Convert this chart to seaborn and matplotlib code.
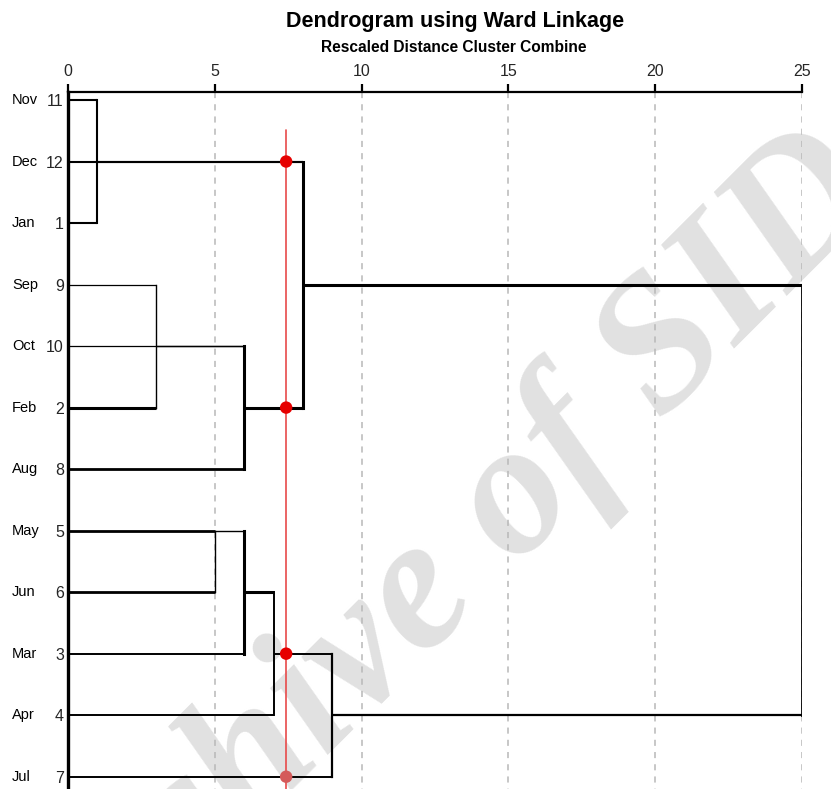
import numpy as np
import pandas as pd
import matplotlib
matplotlib.use("Agg")
import matplotlib.pyplot as plt
import matplotlib.transforms as mtransforms
import seaborn as sns

months = ["Nov", "Dec", "Jan", "Sep", "Oct", "Feb", "Aug", "May", "Jun", "Mar", "Apr", "Jul"]
case_ids = [11, 12, 1, 9, 10, 2, 8, 5, 6, 3, 4, 7]

# rescaled distance where each case line stops
leaf_end = [1, 8, 1, 3, 6, 3, 6, 5, 5, 6, 7, 9]
leaf_width = [1.5, 1.5, 1.5, 0.9, 0.9, 2.2, 2.0, 2.0, 2.0, 1.4, 1.4, 1.4]

# merges: distance, rows joined, row the cluster carries on, next merge distance
merge_dist = [1, 3, 6, 8, 5, 6, 7, 9, 25]
merge_top = [0, 3, 4, 1, 7, 7, 8, 9, 3]
merge_bottom = [2, 5, 6, 5, 8, 9, 10, 11, 10]
merge_out = [1, 4, 5, 3, 7, 8, 9, 10, None]
merge_next = [8, 6, 8, 25, 6, 7, 9, 25, None]
merge_width = [1.5, 1.0, 2.2, 2.2, 1.0, 2.2, 1.4, 1.6, 2.0]

# cut line and where it crosses the tree
cut_dist = 7.43
cut_rows = [1, 5, 9, 11]
cut_shade = ["a", "a", "a", "b"]

xticks = [0, 5, 10, 15, 20, 25]


def main():
    sns.set_theme(style="white")
    plt.rcParams["font.family"] = ["Liberation Sans", "DejaVu Sans"]

    fig = plt.figure(figsize=(8.31, 7.89), dpi=100)
    ax = fig.add_axes([68 / 831, 0, 734 / 831, 697 / 789])
    ax.set_facecolor("white")

    # watermark
    ax.text(0.566, 0.211, "Archive of SID", transform=fig.transFigure,
            family=["Liberation Serif", "DejaVu Serif"], weight="bold", style="italic",
            fontsize=137, color="#e1e1e1", rotation=45, rotation_mode="anchor",
            ha="center", va="baseline", zorder=0, clip_on=False)

    # dashed guides
    ax.vlines(xticks[1:], -0.13, 11.2, colors="#b8b8b8", linewidth=1.1,
              linestyles=(0, (4, 4)), zorder=1)

    # case lines
    for row, end, lw in zip(range(len(months)), leaf_end, leaf_width):
        ax.plot([0, end], [row, row], color="black", lw=lw, solid_capstyle="butt", zorder=3)

    # merge brackets
    for d, top, bot, out, nxt, lw in zip(merge_dist, merge_top, merge_bottom,
                                         merge_out, merge_next, merge_width):
        ax.plot([d, d], [top, bot], color="black", lw=lw, solid_capstyle="projecting", zorder=3)
        if out is not None:
            ax.plot([d, nxt], [out, out], color="black", lw=lw, solid_capstyle="butt", zorder=3)

    # cut line
    ax.plot([cut_dist, cut_dist], [0.49, 11.2], color="#e84a4a", lw=1.2, zorder=4)
    dots = pd.DataFrame({"x": [cut_dist] * len(cut_rows), "y": cut_rows, "shade": cut_shade})
    sns.scatterplot(data=dots, x="x", y="y", hue="shade",
                    palette={"a": "#e60000", "b": "#d45a5a"}, s=80, linewidth=0,
                    legend=False, ax=ax, zorder=5)

    ax.set_xlim(0, 25)
    ax.set_ylim(11.2, -0.13)
    ax.set_xlabel("")
    ax.set_ylabel("")

    ax.xaxis.tick_top()
    ax.set_xticks(xticks)
    ax.set_xticklabels([str(t) for t in xticks], fontsize=11.5)
    ax.tick_params(axis="x", direction="out", length=6, width=1.6, color="black", pad=3)

    ax.set_yticks(range(len(months)))
    ax.set_yticklabels([str(c) for c in case_ids], fontsize=11.5)
    ax.tick_params(axis="y", length=0, pad=3)
    month_trans = mtransforms.blended_transform_factory(fig.transFigure, ax.transData)
    for row, m in enumerate(months):
        ax.text(12 / 831, row, m, transform=month_trans,
                ha="left", va="center", fontsize=10.5, color="black")

    for side in ["right", "bottom"]:
        ax.spines[side].set_visible(False)
    ax.spines["top"].set_linewidth(1.6)
    ax.spines["top"].set_color("black")
    ax.spines["left"].set_linewidth(2.4)
    ax.spines["left"].set_color("black")
    ax.grid(False)

    fig.text(455 / 831, 1 - 21 / 789, "Dendrogram using Ward Linkage",
             ha="center", va="center", fontsize=15.5, weight="bold", color="black")
    fig.text(454 / 831, 1 - 48 / 789, "Rescaled Distance Cluster Combine",
             ha="center", va="center", fontsize=11.2, weight="bold", color="black")

    fig.savefig("out.png", dpi=100, facecolor="white")


if __name__ == "__main__":
    main()
